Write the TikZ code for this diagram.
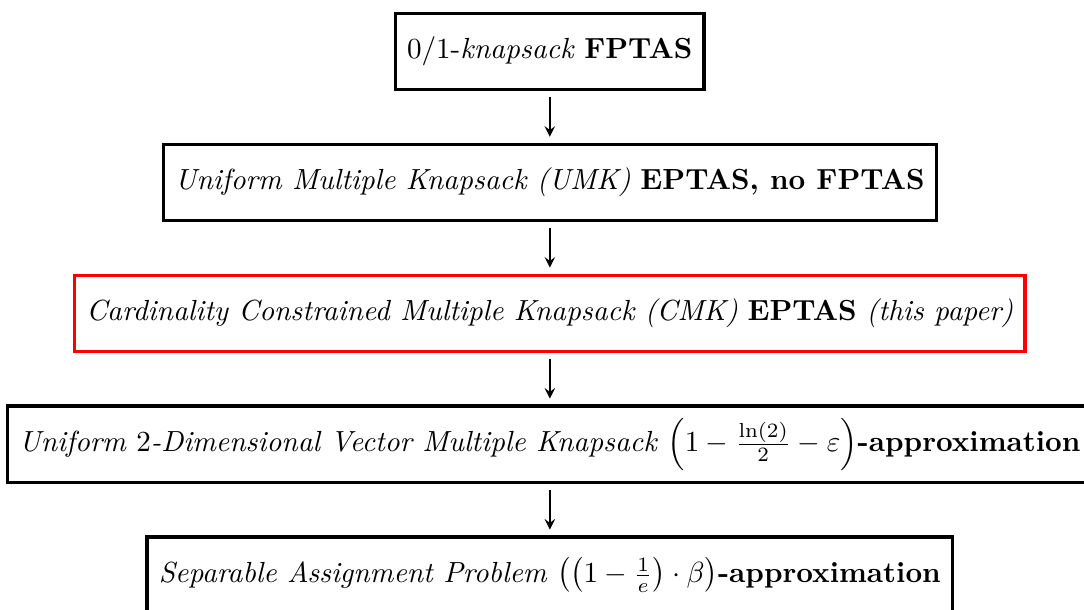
\documentclass[tikz,border=0pt]{standalone}
\usepackage{amsmath}
\usetikzlibrary{ arrows,
                 positioning, % For easy node-relative placements
               }
\tikzstyle{result} = [rectangle, draw=black, very thick, minimum height=0.92cm, inner xsep=4pt]
\tikzstyle{ours} = [result, draw=red]
\tikzstyle{reduction} = [-stealth, semithick, shorten >=2pt, shorten <=2pt]

\begin{document}
\begin{tikzpicture}[node distance=0.62cm]
  \node (kp) [result] {$0/1$-\emph{knapsack} \textbf{FPTAS}};
  \node (umk) [result, below=of kp] {\emph{Uniform Multiple Knapsack (UMK)} \textbf{EPTAS, no FPTAS}};
  \node (cmk) [ours, below=of umk] {\emph{Cardinality Constrained Multiple Knapsack (CMK)} \textbf{EPTAS} \emph{(this paper)}};
  \node (vmk) [result, below=of cmk] {\emph{Uniform $2$-Dimensional Vector Multiple Knapsack} $\left(1-\frac{\ln(2)}{2}-\varepsilon\right)$\textbf{-approximation}};
  \node (sap) [result, below=of vmk] {\emph{Separable Assignment Problem} $\left(\left(1-\frac{1}{e}\right)\cdot\beta\right)$\textbf{-approximation}};
  \path [reduction] (kp) edge (umk);
  \path [reduction] (umk) edge (cmk);
  \path [reduction] (cmk) edge (vmk);
  \path [reduction] (vmk) edge (sap);
  % crop as in the original figure
  \pgfresetboundingbox
  \useasboundingbox ([xshift=-2pt]vmk.west |- kp.north) ++(0,4pt) rectangle ([xshift=-3.4pt,yshift=1.8pt]vmk.east |- sap.south);
\end{tikzpicture}
\end{document}
